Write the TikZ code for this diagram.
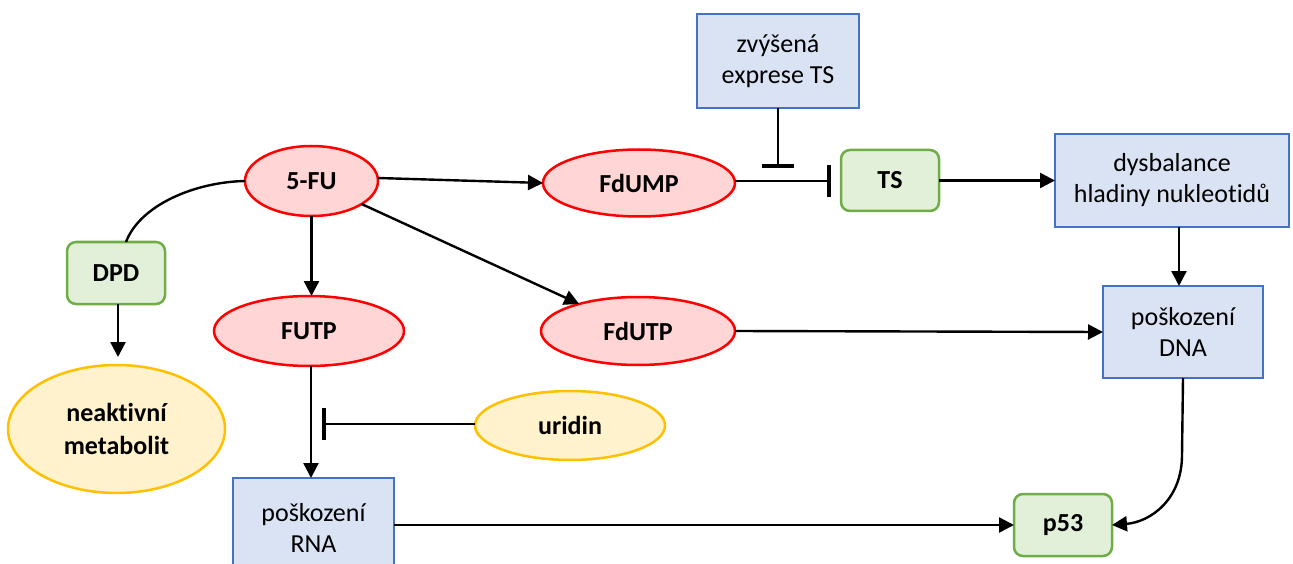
\documentclass[tikz,border=0pt]{standalone}
\usepackage{fontspec}
\setmainfont{Carlito}[Ligatures=NoCommon]
\usetikzlibrary{shapes.geometric,arrows.meta}
\definecolor{redfill}{HTML}{FFD5D5}
\definecolor{redline}{HTML}{FF0000}
\definecolor{yelfill}{HTML}{FFF2CC}
\definecolor{yelline}{HTML}{FFC000}
\definecolor{grnfill}{HTML}{E2F0D9}
\definecolor{grnline}{HTML}{70AD47}
\definecolor{blufill}{HTML}{DAE3F3}
\definecolor{bluline}{HTML}{4472C4}
\tikzset{
  base/.style={inner sep=0pt, outer sep=0pt, align=center},
  redell/.style={base, ellipse, draw=redline, fill=redfill, line width=2.5pt, font=\fontsize{26}{30}\selectfont\bfseries},
  yelell/.style={base, ellipse, draw=yelline, fill=yelfill, line width=2.5pt, font=\fontsize{26}{33}\selectfont\bfseries},
  grnbox/.style={base, rectangle, rounded corners=9pt, draw=grnline, fill=grnfill, line width=2.5pt, font=\fontsize{26}{30}\selectfont\bfseries},
  blubox/.style={base, rectangle, draw=bluline, fill=blufill, line width=2.2pt, font=\fontsize{26}{31}\selectfont},
  arr/.style={line width=2.4pt, -{Triangle[length=15pt,width=15pt]}},
  inh/.style={line width=2.4pt, -{Bar[width=32pt,line width=3.8pt]}},
  ln/.style={line width=2.4pt}
}
\begin{document}
\begin{tikzpicture}[x=1pt,y=-1pt]
\useasboundingbox (0,0) rectangle (1293,564);
% nodes
\node[blubox, minimum width=162pt, minimum height=94pt] (zvy) at (778,61) {zvýšená\\exprese TS};
\node[grnbox, minimum width=98pt, minimum height=61pt] (ts) at (890,180.5) {TS};
\node[blubox, minimum width=234pt, minimum height=93pt] (dys) at (1172,180.5) {dysbalance\\hladiny nukleotidů};
\node[redell, minimum width=133pt, minimum height=70pt] (fu) at (311.5,181) {5-FU};
\node[redell, minimum width=192pt, minimum height=67pt] (fdump) at (639,183) {FdUMP};
\node[grnbox, minimum width=98pt, minimum height=62pt] (dpd) at (116,273) {DPD};
\node[redell, minimum width=190pt, minimum height=70pt] (futp) at (309,331) {FUTP};
\node[redell, minimum width=194pt, minimum height=68pt] (fdutp) at (638,331) {FdUTP};
\node[blubox, minimum width=160pt, minimum height=92pt] (dna) at (1183,332) {poškození\\DNA};
\node[yelell, minimum width=217pt, minimum height=128pt] (neak) at (116.5,429) {neaktivní\\metabolit};
\node[yelell, minimum width=190pt, minimum height=69pt] (uri) at (570,425.5) {uridin};
\node[blubox, minimum width=161pt, minimum height=92pt, anchor=north] (rna) at (313.5,478) {};
\node[base, font=\fontsize{26}{31}\selectfont] (rnatext) at (313.5,528) {poškození\\RNA};
\node[grnbox, minimum width=98pt, minimum height=62pt] (p53) at (1063,525) {p53};
% connectors
\coordinate (zvybar) at (778,168);
\draw[inh] (zvy.south) -- (zvybar);
\draw[inh, shorten >=10pt] ([yshift=2pt]fdump.east) -- ([yshift=-0.5pt]ts.west);
\draw[arr] (ts.east) -- (dys.west);
\draw[arr] ([xshift=7pt]dys.south) -- ([xshift=-4pt]dna.north);
\draw[arr] ([yshift=3pt]fu.east) -- (fdump.west);
\draw[arr] (fu) -- (fdutp);
\draw[arr] (fu.south) -- (fu.south |- futp.north);
\draw[ln] (fu.west) .. controls (195,182) and (140,205) .. ([xshift=10pt]dpd.north);
\draw[arr, shorten >=8pt] ([xshift=2pt]dpd.south) -- ([xshift=1.5pt]neak.north);
\draw[arr] (fdutp.east) -- (dna.west);
\draw[arr] ([xshift=2pt]futp.south) -- ([xshift=-2.5pt]rna.north);
\coordinate (uribar) at (322,424);
\draw[inh] ([yshift=1.5pt]uri.west) -- (uribar);
\draw[arr] ([yshift=-1pt]rna.east) -- (p53.west);
\coordinate (dnabend) at (1182,455);
\draw[arr] (dna.south) -- (dnabend) .. controls (1182,500) and (1150,522) .. (p53.east);
\end{tikzpicture}
\end{document}
